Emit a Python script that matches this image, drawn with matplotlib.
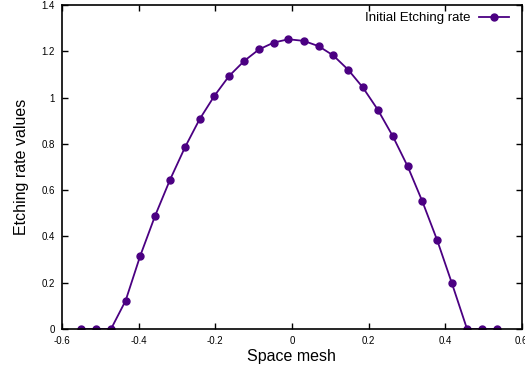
import matplotlib
matplotlib.use("Agg")
import matplotlib.pyplot as plt

# values
space_mesh = [-0.550, -0.511, -0.472, -0.434, -0.396, -0.357, -0.318, -0.279,
              -0.241, -0.202, -0.164, -0.124, -0.086, -0.047, -0.009, 0.031,
              0.070, 0.108, 0.147, 0.185, 0.224, 0.263, 0.302, 0.340,
              0.379, 0.417, 0.457, 0.495, 0.534]
etching_rate = [0.0, 0.0, 0.0, 0.122, 0.315, 0.489, 0.645, 0.785,
                0.906, 1.008, 1.093, 1.159, 1.208, 1.238, 1.252, 1.245,
                1.222, 1.182, 1.120, 1.044, 0.948, 0.834, 0.703, 0.553,
                0.384, 0.200, 0.0, 0.0, 0.0]

x_ticks = [-0.6, -0.4, -0.2, 0, 0.2, 0.4, 0.6]
x_tick_labels = ["-0.6", "-0.4", "-0.2", "0", "0.2", "0.4", "0.6"]
y_ticks = [0, 0.2, 0.4, 0.6, 0.8, 1, 1.2, 1.4]
y_tick_labels = ["0", "0.2", "0.4", "0.6", "0.8", "1", "1.2", "1.4"]

plt.rcParams["font.family"] = ["Liberation Sans", "DejaVu Sans"]
plt.rcParams["axes.unicode_minus"] = False

fig = plt.figure(figsize=(5.25, 3.69), dpi=100)
ax = fig.add_axes([0.118, 0.1084, 0.876, 0.878])

color = "#4B0082"
ax.plot(space_mesh, etching_rate, color=color, lw=1.3, marker="o",
        markersize=5, label="Initial Etching rate")

ax.set_xlim(-0.6, 0.6)
ax.set_ylim(0, 1.4)
ax.set_xticks(x_ticks)
ax.set_xticklabels(x_tick_labels)
ax.set_yticks(y_ticks)
ax.set_yticklabels(y_tick_labels)

ax.tick_params(direction="in", length=4, width=1, labelsize=7, pad=5,
               top=True, right=True)
for s in ax.spines.values():
    s.set_linewidth(1.2)

ax.set_xlabel("Space mesh", fontsize=11.5, labelpad=2)
ax.set_ylabel("Etching rate values", fontsize=11.5, labelpad=9)

# the 0.6 label sits on the figure edge, as in the reference
ax.legend(loc="upper right", bbox_to_anchor=(0.989, 1.003), frameon=False,
          fontsize=9.5, markerfirst=False, handlelength=2.3,
          borderaxespad=0.2, handletextpad=0.6)

fig.savefig("out.png", dpi=100)
